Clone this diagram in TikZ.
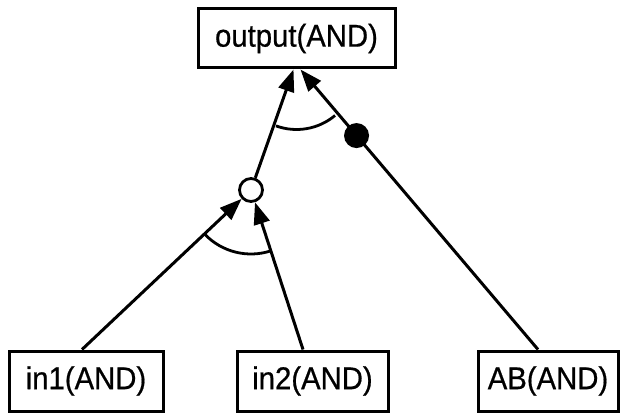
\documentclass[tikz,border=0pt]{standalone}
\usepackage{fontspec}
\setmainfont[FakeStretch=0.93,FakeBold=0.6]{Liberation Sans}
\usetikzlibrary{arrows.meta,calc}

\tikzset{
  gate/.style={draw, line width=3pt, inner sep=0pt, font=\fontsize{31.5}{36}\selectfont},
  arr/.style={line width=3pt, -{Triangle[length=22pt,width=16pt]}},
  junction/.style={circle, draw, fill=white, line width=2.8pt, minimum size=23pt, inner sep=0pt},
  blob/.style={circle, fill=black, minimum size=25pt, inner sep=0pt},
  angarc/.style={line width=2.8pt}
}

\begin{document}
\begin{tikzpicture}[x=1pt,y=1pt]
  \useasboundingbox (0,0) rectangle (623,413);

  % gate boxes
  \node[gate, minimum width=197pt, minimum height=59pt] (out) at (296.5,374.5) {output(AND)};
  \node[gate, minimum width=154pt, minimum height=60pt] (in1) at (86,32) {in1(AND)};
  \node[gate, minimum width=151pt, minimum height=60pt] (in2) at (312.5,32) {in2(AND)};
  \node[gate, minimum width=140pt, minimum height=60pt] (ab) at (548,32) {AB(AND)};

  % intermediate junction
  \node[junction] (c) at (251,223) {};

  % inputs into the junction
  \draw[arr] ([xshift=-4pt]in1.north) -- (c);
  \draw[arr] ([xshift=-9.5pt]in2.north) -- (c);
  \draw[angarc] ($(c)+(224:64)$) arc[start angle=224, end angle=288, radius=64];

  % junction and AB into the output
  \coordinate (tipL) at ([xshift=-3pt]out.south);
  \coordinate (tipR) at ([xshift=4pt]out.south);
  \draw[arr] (c) -- (tipL);
  \draw[arr] ([xshift=-10pt]ab.north) -- node[blob, pos=0.764] (d) {} (tipR);
  \draw[angarc] ($(out.south)+(250:60)$) arc[start angle=250, end angle=310, radius=60];
\end{tikzpicture}
\end{document}
